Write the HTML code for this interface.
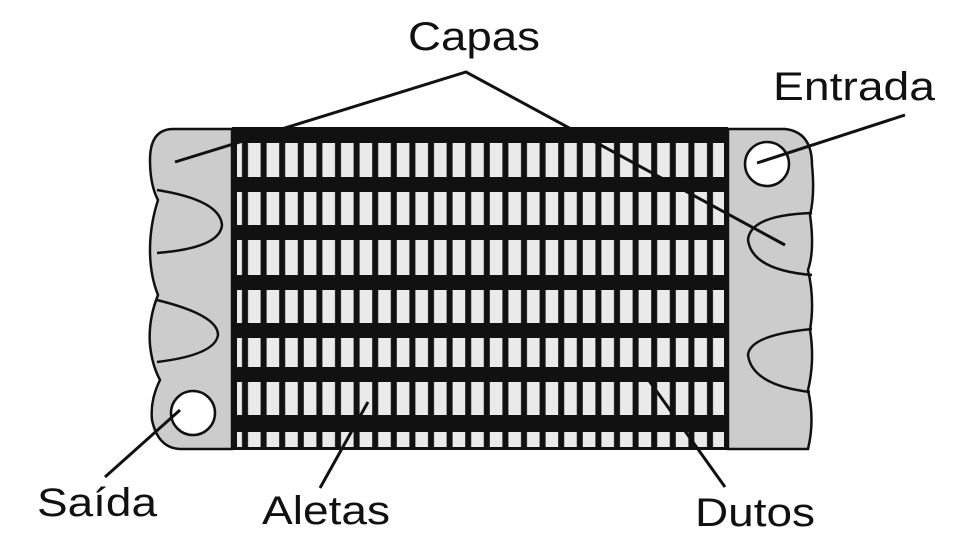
<!DOCTYPE html>
<html><head><meta charset="utf-8"><style>
html,body{margin:0;padding:0;background:#fff;width:962px;height:541px;overflow:hidden}
svg{display:block}
text{font-family:"Liberation Sans",Arial,sans-serif;font-size:40px;fill:#111}
</style></head><body>
<svg width="962" height="541" viewBox="0 0 962 541" xmlns="http://www.w3.org/2000/svg">
<defs>
<pattern id="fins" x="233" y="0" width="18.6" height="541" patternUnits="userSpaceOnUse">
<rect x="0" y="0" width="18.6" height="541" fill="#eaeaea"/>
<rect x="9" y="0" width="6" height="541" fill="#111"/>
</pattern>
</defs>
<!-- left header -->
<path d="M232,129 L172,129 Q150,130 150,160 Q150,185 158,200 Q150,225 150,250 Q150,275 158,295 Q148,320 150,345 Q152,365 160,380 Q150,400 152,420 Q158,448 180,449 L232,449 Z" fill="#cccccc" stroke="#111" stroke-width="2.5"/>
<path d="M157,190 Q220,200 222,225 Q220,248 157,253" fill="none" stroke="#111" stroke-width="2.5"/>
<path d="M157,300 Q218,315 218,335 Q215,355 157,362" fill="none" stroke="#111" stroke-width="2.5"/>
<circle cx="193" cy="413" r="22" fill="#fff" stroke="#111" stroke-width="2.5"/>
<!-- right header -->
<path d="M728,129 L785,129 Q812,132 812,165 Q815,195 810,215 Q815,250 808,270 Q815,300 810,330 Q815,360 808,390 Q815,420 808,449 L728,449 Z" fill="#cccccc" stroke="#111" stroke-width="2.5"/>
<path d="M812,213 Q750,215 748,240 Q752,270 812,275" fill="none" stroke="#111" stroke-width="2.5"/>
<path d="M812,329 Q750,335 748,355 Q752,385 810,392" fill="none" stroke="#111" stroke-width="2.5"/>
<circle cx="767" cy="164" r="22" fill="#fff" stroke="#111" stroke-width="2.5"/>
<!-- core -->
<rect x="232" y="127" width="496" height="322" fill="url(#fins)"/>
<rect x="232" y="127" width="5" height="322" fill="#111"/>
<rect x="724" y="127" width="4" height="322" fill="#111"/>
<g fill="#111">
<rect x="232" y="127" width="496" height="16"/>
<rect x="232" y="177" width="496" height="15"/>
<rect x="232" y="225" width="496" height="15"/>
<rect x="232" y="275" width="496" height="15"/>
<rect x="232" y="323" width="496" height="15"/>
<rect x="232" y="367" width="496" height="15"/>
<rect x="232" y="415" width="496" height="17"/>
<rect x="232" y="447" width="496" height="3"/>
</g>
<!-- leader lines -->
<g stroke="#111" stroke-width="3" fill="none">
<polyline points="175,162 466,72 785,245"/>
<line x1="905" y1="115" x2="757" y2="163"/>
<line x1="105" y1="477" x2="180" y2="410"/>
<line x1="320" y1="488" x2="368" y2="402"/>
<line x1="725" y1="487" x2="645" y2="375"/>
</g>
<text x="408" y="50" textLength="132" lengthAdjust="spacingAndGlyphs">Capas</text>
<text x="773" y="100" textLength="162" lengthAdjust="spacingAndGlyphs">Entrada</text>
<text x="37" y="516" textLength="120" lengthAdjust="spacingAndGlyphs">Saída</text>
<text x="262" y="524" textLength="128" lengthAdjust="spacingAndGlyphs">Aletas</text>
<text x="695" y="526" textLength="120" lengthAdjust="spacingAndGlyphs">Dutos</text>
</svg>
</body></html>
